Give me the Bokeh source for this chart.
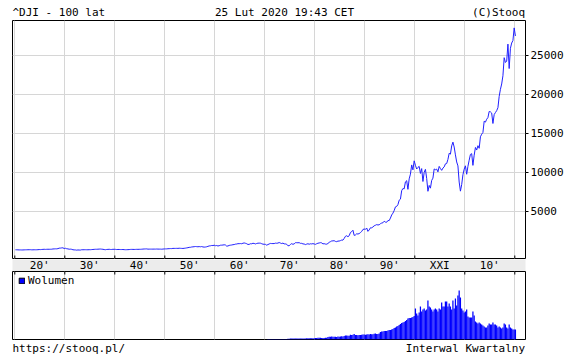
import numpy as np
import pandas as pd
from bokeh.plotting import figure
from bokeh.layouts import column
from bokeh.models import (Range1d, LinearAxis, FixedTicker, Legend, LegendItem,
                          NumeralTickFormatter)
from bokeh.core.properties import value
from bokeh.embed import file_html
from bokeh.resources import INLINE

FONT = "DejaVu Sans Mono"
FS = "11px"

# ---------------- data ----------------
# ^DJI quarterly closes, 1920Q1 .. 2020Q1
dji_close = [
    91.1, 90.8, 82.9, 72.0,  75.8, 68.5, 71.1, 81.1,  88.5, 92.9, 96.6, 98.7,
    103.9, 87.9, 87.9, 95.5,  92.3, 95.0, 103.3, 120.5,  115.0, 131.0, 143.5, 156.7,
    140.5, 153.0, 158.2, 157.2,  160.1, 166.2, 197.6, 202.4,  214.5, 210.4, 240.4, 300.0,
    308.9, 333.8, 343.5, 248.5,  286.1, 226.3, 204.9, 164.6,  172.4, 150.2, 96.6, 77.9,
    73.3, 42.8, 71.6, 59.9,  55.4, 98.1, 94.4, 99.9,  101.0, 95.7, 92.6, 104.0,
    100.8, 118.2, 131.9, 144.1,  156.7, 157.7, 167.8, 179.9,  186.4, 169.3, 154.6, 120.9,
    99.0, 133.9, 141.5, 154.8,  131.8, 130.6, 152.5, 150.2,  147.5, 121.9, 132.6, 131.1,
    122.7, 123.1, 126.8, 111.0,  99.5, 103.3, 109.1, 119.4,  136.6, 143.4, 140.1, 135.9,
    138.8, 148.4, 146.7, 152.3,  154.1, 165.3, 181.0, 192.9,  199.6, 205.6, 172.4, 177.2,
    177.2, 177.3, 177.5, 181.2,  177.2, 189.5, 178.3, 177.3,  177.1, 167.4, 182.5, 200.1,
    206.1, 209.1, 226.4, 235.4,  248.0, 242.6, 271.2, 269.2,  269.5, 274.3, 270.6, 291.9,
    279.9, 268.3, 264.0, 280.9,  303.5, 333.5, 360.5, 404.4,  409.7, 451.4, 466.6, 488.4,
    511.8, 492.8, 475.3, 499.5,  474.8, 503.3, 456.3, 435.7,  446.8, 478.2, 532.1, 583.7,
    601.7, 643.6, 632.0, 679.4,  616.6, 640.6, 580.1, 615.9,  676.6, 683.9, 701.2, 731.1,
    706.9, 561.3, 578.0, 652.1,  682.5, 706.9, 743.2, 763.0,  813.3, 831.5, 875.4, 874.1,
    889.6, 868.0, 930.6, 969.3,  924.8, 870.1, 774.2, 785.7,  866.0, 860.3, 926.7, 905.1,
    840.7, 897.8, 935.8, 943.8,  935.5, 873.2, 813.1, 800.4,  785.6, 683.5, 760.7, 838.9,
    904.4, 891.1, 887.2, 890.2,  940.7, 929.0, 953.3, 1020.0,  951.0, 891.7, 947.1, 850.9,
    846.7, 802.4, 607.9, 616.2,  768.2, 879.0, 793.9, 852.4,  999.5, 1002.8, 990.2, 1004.7,
    919.1, 916.3, 847.1, 831.2,  757.4, 819.0, 865.8, 805.0,  862.2, 842.0, 878.6, 838.7,
    785.8, 867.9, 932.4, 964.0,  1003.9, 976.9, 850.0, 875.0,  822.8, 811.9, 896.3, 1046.5,
    1130.0, 1222.0, 1233.1, 1258.6,  1164.9, 1132.4, 1206.7, 1211.6,  1266.8, 1335.5, 1328.6, 1546.7,
    1818.6, 1892.7, 1767.6, 1896.0,  2304.7, 2418.5, 2596.3, 1938.8,  1988.1, 2141.7, 2112.9, 2168.6,
    2293.6, 2440.1, 2692.8, 2753.2,  2707.2, 2880.7, 2452.5, 2633.7,  2913.9, 2906.8, 3016.8, 3168.8,
    3235.5, 3318.5, 3271.7, 3301.1,  3435.1, 3516.1, 3555.1, 3754.1,  3636.0, 3625.0, 3843.2, 3834.4,
    4157.7, 4556.1, 4789.1, 5117.1,  5587.1, 5654.6, 5882.2, 6448.3,  6583.5, 7672.8, 7945.3, 7908.3,
    8799.8, 8952.0, 7842.6, 9181.4,  9786.2, 10970.8, 10337.0, 11497.1,  10921.9, 10447.9, 10650.9, 10786.9,
    9878.8, 10502.4, 8847.6, 10021.5,  10403.9, 9243.3, 7591.9, 8341.6,  7992.1, 8985.4, 9275.1, 10453.9,
    10357.7, 10435.5, 10080.3, 10783.0,  10503.8, 10275.0, 10568.7, 10717.5,  11109.3, 11150.2, 11679.1, 12463.2,
    12354.4, 13408.6, 13895.6, 13264.8,  12262.9, 11350.0, 10850.7, 8776.4,  7608.9, 8447.0, 9712.3, 10428.1,
    10856.6, 9774.0, 10788.1, 11577.5,  12319.7, 12414.3, 10913.4, 12217.6,  13212.0, 12880.1, 13437.1, 13104.1,
    14578.5, 14909.6, 15129.7, 16576.7,  16457.7, 16826.6, 17042.9, 17823.1,  17776.1, 17619.5, 16284.7, 17425.0,
    17685.1, 17930.0, 18308.2, 19762.6,  20663.2, 21349.6, 22405.1, 24719.2,  24103.1, 24271.4, 26458.3, 23327.5,
    25928.7, 26600.0, 26916.8, 28538.4,  27500.0,
]
price_start, price_end = "1920Q1", "2020Q1"

# quarterly volume (mln), 1970Q3 .. 2020Q1
wolumen = [
    60, 40,
    50, 40, 40, 60,  50, 40, 40, 50,  40, 40, 60, 50,  60, 60, 80, 80,
    90, 100, 90, 90,  100, 100, 100, 100,  100, 100, 100, 100,  110, 120, 130, 120,
    120, 120, 130, 130,  150, 140, 170, 170,  170, 160, 160, 160,  180, 170, 240, 270,
    280, 290, 270, 270,  280, 260, 290, 280,  310, 320, 300, 360,  400, 400, 380, 380,
    480, 450, 480, 560,  440, 450, 420, 440,  450, 470, 490, 490,  470, 490, 520, 490,
    550, 530, 520, 570,  590, 560, 560, 590,  750, 800, 800, 850,  850, 850, 900, 950,
    950, 1000, 1050, 1150,  1200, 1300, 1350, 1450,  1550, 1650, 1700, 1750,
    1850, 1950, 2100, 2150,  2150, 2200, 2250, 2350,
    3100, 2600, 2400, 2700,  3300, 2800, 3000, 3100,  2900, 3000, 3900, 3300,
    3200, 3000, 2800, 3000,  3100, 3000, 2800, 3100,  3000, 3700, 3300, 3300,
    3800, 3800, 3300, 3600,  3300, 3000, 3900, 3100,  4100, 3400, 4400, 4900,
    4200, 3100, 2900, 2700,  2800, 3000, 2300, 2200,  2200, 2200, 2800, 2400,
    1800, 1700, 1600, 1700,  1600, 1500, 1400, 1300,  1200, 1200, 1400, 1600,
    1500, 1500, 1700, 1500,  1500, 1400, 1200, 1300,  1200, 1100, 1200, 1600,
    1500, 1200, 1100, 1500,  1200, 1100, 1000, 1000,  1000,
]
vol_start, vol_end = "1970Q3", "2020Q1"

decades = [1920, 1930, 1940, 1950, 1960, 1970, 1980, 1990, 2000, 2010, 2020]
decade_labels = ["20'", "30'", "40'", "50'", "60'", "70'", "80'", "90'", "XXI", "10'"]
label_years = [1925, 1935, 1945, 1955, 1965, 1975, 1985, 1995, 2005, 2015]
price_ticks = [5000, 10000, 15000, 20000, 25000]

header_texts = ["^DJI - 100 lat", "25 Lut 2020 19:43 CET", "(C)Stooq"]
footer_texts = ["https://stooq.pl/", "Interwal Kwartalny"]
legend_text = "Wolumen"

# ---------------- positions of quarters ----------------
pq = pd.period_range(price_start, price_end, freq="Q")
px = np.asarray(pq.year + (pq.quarter - 0.5) / 4, dtype=float)
vq = pd.period_range(vol_start, vol_end, freq="Q")
vx = np.asarray(vq.year + (vq.quarter - 0.5) / 4, dtype=float)

GRID = "#d6d6d6"
BLUE = "#0000ff"
W = 568
LEFT, RIGHT = 12, 43
FRAME_W = W - LEFT - RIGHT

x_range = Range1d(1919.54, 2022.14)
common = dict(width=W, output_backend="svg", toolbar_location=None,
              min_border_left=LEFT, min_border_right=RIGHT,
              x_axis_location=None, y_axis_location=None)


def text_strip(height, texts, xs, aligns, mid_y):
    # strip of plain text lines; its frame is aligned with the panels below (x in pixels)
    p = figure(height=height, x_range=Range1d(0, FRAME_W), y_range=Range1d(0, height),
               min_border_top=0, min_border_bottom=0, **common)
    p.outline_line_color = None
    p.grid.visible = False
    for txt, x, al in zip(texts, xs, aligns):
        p.text([x], [mid_y], text=[txt], text_font=value(FONT), text_font_size=FS,
               text_color="black", text_align=al, text_baseline="middle")
    return p


# ---------------- header ----------------
pH = text_strip(19, header_texts, [0, W / 2 - LEFT, FRAME_W - 0.5],
                ["left", "center", "right"], 7.5)

# ---------------- main price panel ----------------
yA = Range1d(-1154, 29487)
pA = figure(height=240, x_range=x_range, y_range=yA, min_border_top=1, min_border_bottom=0,
            **common)
pA.outline_line_color = "black"
pA.outline_line_alpha = 1.0
pA.xgrid.ticker = FixedTicker(ticks=decades)
pA.ygrid.ticker = FixedTicker(ticks=price_ticks)
for g in (pA.xgrid, pA.ygrid):
    g.grid_line_color = GRID
    g.grid_line_width = 1

yax = LinearAxis(ticker=FixedTicker(ticks=price_ticks),
                 formatter=NumeralTickFormatter(format="0"),
                 major_tick_out=3, major_tick_in=0, major_tick_line_color="black",
                 minor_tick_line_color=None, axis_line_color=None,
                 major_label_standoff=2,
                 major_label_text_font=FONT, major_label_text_font_size=FS,
                 major_label_text_color="black")
pA.add_layout(yax, "right")

pA.line(px, dji_close, line_color="#2020ff", line_width=1)
pA.scatter(decades, [yA.start] * len(decades), marker="dash", angle=np.pi / 2,
           size=8, line_color="black", line_width=1)

# ---------------- date band ----------------
pB = figure(height=12, x_range=x_range, y_range=Range1d(0, 1), min_border_top=0,
            min_border_bottom=0, **common)
pB.background_fill_color = "#ececec"
pB.outline_line_color = None
pB.grid.visible = False
pB.text(label_years, [0.5] * len(label_years), text=decade_labels,
        text_font=value(FONT), text_font_size=FS, text_color="black",
        text_align="center", text_baseline="middle")

# ---------------- volume panel ----------------
yC = Range1d(0, 6800)
pC = figure(height=69, x_range=x_range, y_range=yC, min_border_top=0, min_border_bottom=1,
            **common)
pC.outline_line_color = "black"
pC.outline_line_alpha = 1.0
pC.xgrid.ticker = FixedTicker(ticks=decades)
pC.xgrid.grid_line_color = GRID
pC.ygrid.visible = False
pC.vbar(x=vx, top=wolumen, width=0.25, fill_color=BLUE, line_color=None)
pC.scatter(decades, [yC.end] * len(decades), marker="dash", angle=np.pi / 2,
           size=6, line_color="black", line_width=1)

proxy = pC.vbar(x=[np.nan], top=[np.nan], width=0.2, fill_color=BLUE, line_color="black")
leg = Legend(items=[LegendItem(label=legend_text, renderers=[proxy])],
             location=(6, 52), padding=0, margin=0, spacing=0,
             glyph_width=7, glyph_height=7, label_height=13, label_standoff=3,
             label_text_font=FONT, label_text_font_size=FS, label_text_color="black",
             background_fill_alpha=0, border_line_color=None)
pC.add_layout(leg)

# ---------------- footer ----------------
pF = text_strip(16, footer_texts, [0, FRAME_W - 0.5], ["left", "right"], 8.5)

layout = column(pH, pA, pB, pC, pF, spacing=0)
open("out.html", "w").write(file_html(layout, INLINE))
